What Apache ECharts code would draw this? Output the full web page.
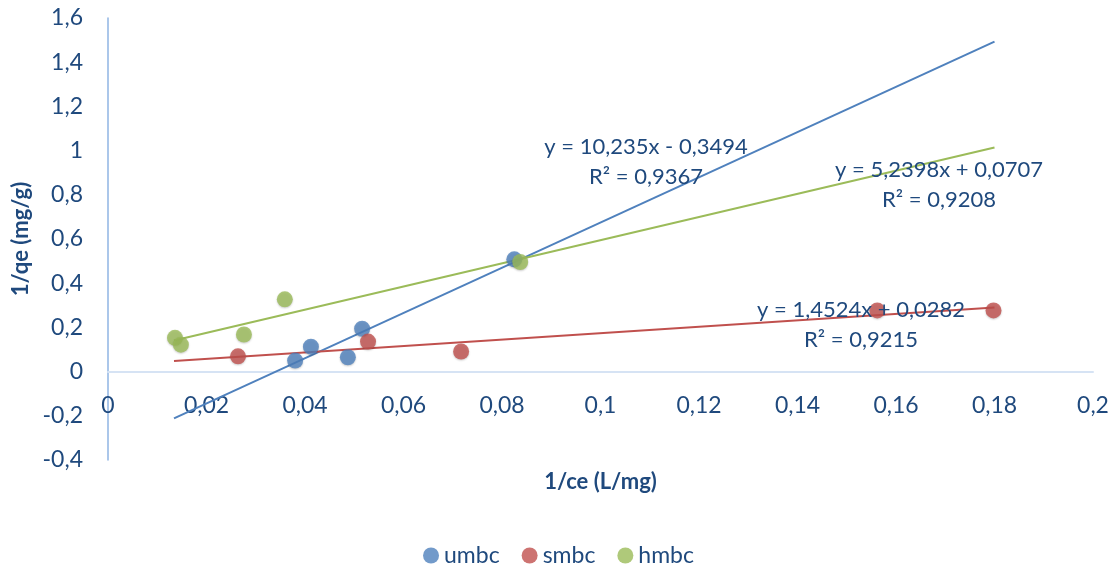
<!DOCTYPE html>
<html>
<head>
<meta charset="utf-8">
<script src="https://cdn.jsdelivr.net/npm/echarts@6/dist/echarts.min.js"></script>
<style>html,body{margin:0;padding:0;background:#fff}#c{width:1117px;height:564px}</style>
</head>
<body>
<div id="c"></div>
<script>
// Data
const seriesNames = ['umbc', 'smbc', 'hmbc'];
const umbcPoints = [[0.0380, 0.050], [0.0412, 0.113], [0.0487, 0.065], [0.0516, 0.194], [0.0825, 0.508]];
const smbcPoints = [[0.0264, 0.069], [0.0528, 0.136], [0.0717, 0.091], [0.1562, 0.277], [0.1798, 0.277]];
const hmbcPoints = [[0.0136, 0.153], [0.0148, 0.122], [0.0276, 0.168], [0.0359, 0.327], [0.0837, 0.496]];
// Linear trendline end points (as drawn)
const umbcTrend = [[0.0134, -0.212], [0.1800, 1.493]];
const smbcTrend = [[0.0134, 0.048], [0.1800, 0.290]];
const hmbcTrend = [[0.0134, 0.141], [0.1800, 1.014]];
const trendLabels = [
  'y = 10,235x - 0,3494\nR² = 0,9367',
  'y = 1,4524x + 0,0282\nR² = 0,9215',
  'y = 5,2398x + 0,0707\nR² = 0,9208'
];
const xTitle = '1/ce (L/mg)';
const yTitle = '1/qe (mg/g)';

const colors = ['#4F81BD', '#C0504D', '#9BBB59'];
const txt = '#1F497D';
const FONT = 'Lato';
const FS = 22;
const FT = 23;
const fmt = v => String(Number(v.toFixed(2))).replace('.', ',');

// grid geometry: x axis sits on y = 0
const gridTop = 18, gridBottom = 104, yMin = -0.4, yMax = 1.6;
const gridH = 564 - gridTop - gridBottom;
const zeroOffset = -gridH * (0 - yMin) / (yMax - yMin);

const chart = echarts.init(document.getElementById('c'));
const scatter = (name, data, color) => ({
  name, type: 'scatter', data, symbol: 'circle', symbolSize: 16, z: 3,
  itemStyle: { color, shadowBlur: 2, shadowColor: 'rgba(0,0,0,0.25)', shadowOffsetY: 1 }
});
const trend = (data, color) => ({
  type: 'line', data, showSymbol: false, symbol: 'none', z: 2, silent: true,
  lineStyle: { color, width: 2 }
});
const eqText = (text, x, y) => ({
  type: 'text', x, y, z: 10, silent: true,
  style: { text, fill: txt, font: FS + 'px ' + FONT, lineHeight: 30, align: 'center', verticalAlign: 'middle' }
});
chart.setOption({
  animation: false,
  color: colors,
  textStyle: { fontFamily: FONT },
  grid: { left: 108, right: 24, top: gridTop, bottom: gridBottom, containLabel: false, outerBoundsMode: 'none' },
  xAxis: {
    type: 'value', min: 0, max: 0.2, interval: 0.02,
    offset: zeroOffset,
    name: xTitle, nameLocation: 'middle', nameGap: 99,
    nameTextStyle: { color: txt, fontSize: FS, fontWeight: 'bold', fontFamily: FONT },
    axisLine: { onZero: false, lineStyle: { color: '#D6E3F4', width: 2 } },
    axisTick: { show: false },
    splitLine: { show: false },
    axisLabel: { formatter: fmt, color: txt, fontSize: FT, margin: 22, fontFamily: FONT }
  },
  yAxis: {
    type: 'value', min: yMin, max: yMax, interval: 0.2,
    name: yTitle, nameLocation: 'middle', nameGap: 72,
    nameTextStyle: { color: txt, fontSize: FS, fontWeight: 'bold', fontFamily: FONT },
    axisLine: { show: true, onZero: false, lineStyle: { color: '#8FB4E3', width: 1.5 } },
    axisTick: { show: false },
    splitLine: { show: false },
    axisLabel: { formatter: fmt, color: txt, fontSize: FT, margin: 25, fontFamily: FONT }
  },
  legend: {
    data: seriesNames, left: 'center', top: 539,
    icon: 'circle', itemWidth: 16, itemHeight: 16, itemGap: 22,
    textStyle: { color: txt, fontSize: FT, fontFamily: FONT }
  },
  series: [
    trend(umbcTrend, colors[0]),
    trend(smbcTrend, colors[1]),
    trend(hmbcTrend, colors[2]),
    scatter(seriesNames[0], umbcPoints, colors[0]),
    scatter(seriesNames[1], smbcPoints, colors[1]),
    scatter(seriesNames[2], hmbcPoints, colors[2])
  ],
  graphic: [
    eqText(trendLabels[0], 646, 162),
    eqText(trendLabels[1], 861, 325),
    eqText(trendLabels[2], 939, 185)
  ]
});
</script>
</body>
</html>
